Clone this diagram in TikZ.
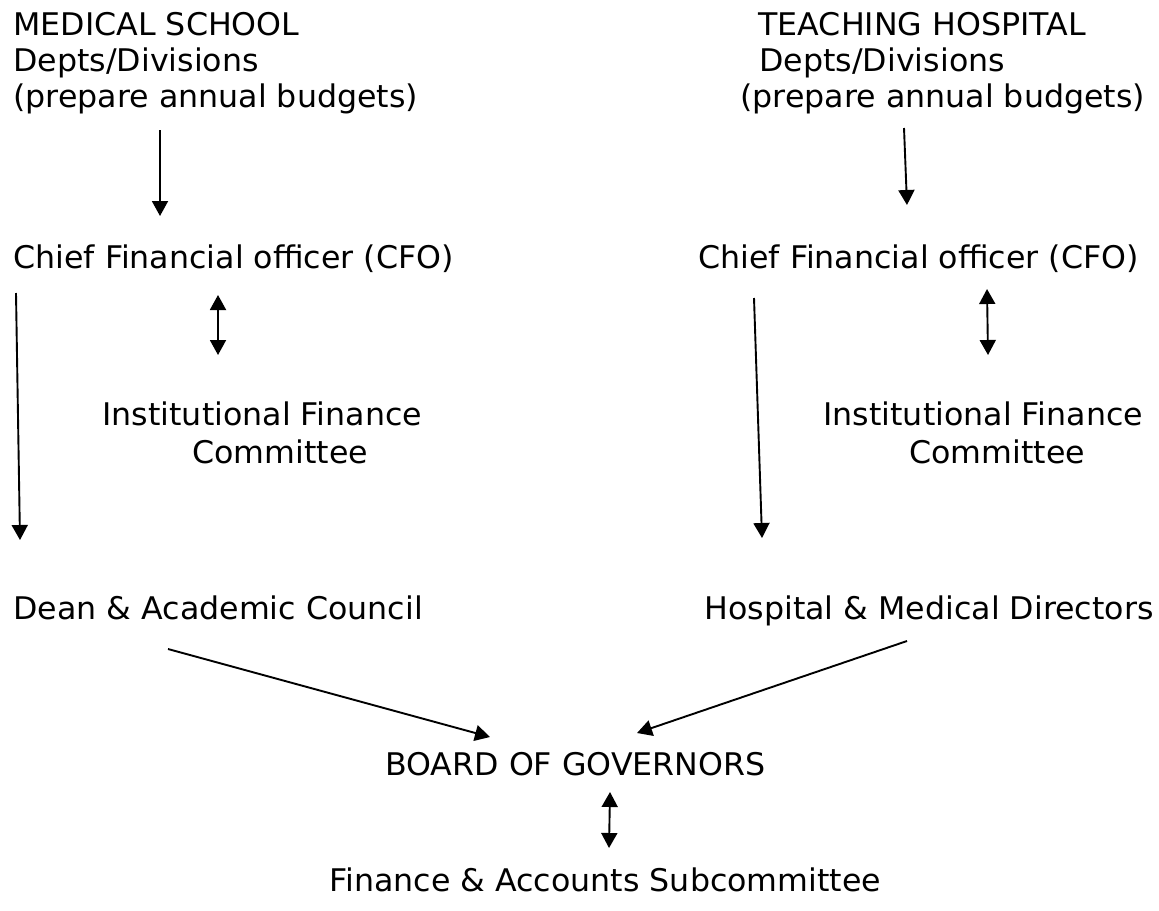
\documentclass[tikz,border=0pt]{standalone}
\usepackage{fontspec}
\setmainfont{DejaVu Sans}[FakeStretch=1.015]
\usetikzlibrary{arrows.meta}
\begin{document}
\begin{tikzpicture}[x=0.5pt,y=-0.5pt,
  lbl/.style={anchor=base west,inner sep=0pt,align=left,font=\fontsize{15.6}{18}\selectfont},
  arr/.style={line width=0.95pt,-{Triangle[length=7.5pt,width=8pt]}},
  dbl/.style={line width=0.95pt,{Triangle[length=7.5pt,width=8pt]}-{Triangle[length=7.5pt,width=8pt]}}]
\useasboundingbox[fill=white] (0,0) rectangle (1159,910);
% text nodes (base anchor = baseline of last line)
\node[lbl] (ms) at (13,107) {MEDICAL SCHOOL\\Depts/Divisions\\(prepare annual budgets)};
\node[lbl] (th) at (740,107) {\hspace*{9pt}TEACHING HOSPITAL\\\hspace*{9.5pt}Depts/Divisions\\(prepare annual budgets)};
\node[lbl] (cfoL) at (13,268) {Chief Financial officer (CFO)};
\node[lbl] (cfoR) at (698,268) {Chief Financial officer (CFO)};
\node[lbl] (ifcL) at (102,463) {Institutional Finance\\[1pt]\hspace*{45pt}Committee};
\node[lbl] (ifcR) at (823,463) {Institutional Finance\\[1pt]\hspace*{43pt}Committee};
\node[lbl] (dean) at (13,619) {Dean \& Academic Council};
\node[lbl] (hosp) at (704,619) {Hospital \& Medical Directors};
\node[lbl] (board) at (385,775) {BOARD OF GOVERNORS};
\node[lbl] (fas) at (329,891) {Finance \& Accounts Subcommittee};
% connector end points
\coordinate (msA) at (160,130);  \coordinate (cfoLA) at (160,216);
\coordinate (thA) at (904,128);  \coordinate (cfoRA) at (907,205);
\coordinate (cfoLB) at (16,293); \coordinate (deanA) at (20,540);
\coordinate (cfoLC) at (218,295); \coordinate (ifcLA) at (218,355);
\coordinate (cfoRB) at (754,298); \coordinate (hospA) at (762,538);
\coordinate (cfoRC) at (987,289); \coordinate (ifcRA) at (988,355);
\coordinate (deanB) at (168,649); \coordinate (boardA) at (490,737);
\coordinate (hospB) at (907,641); \coordinate (boardB) at (637,733);
\coordinate (boardC) at (610,792); \coordinate (fasA) at (609,848);
% connectors
\draw[arr] (msA) -- (cfoLA);
\draw[arr] (thA) -- (cfoRA);
\draw[arr] (cfoLB) -- (deanA);
\draw[dbl] (cfoLC) -- (ifcLA);
\draw[arr] (cfoRB) -- (hospA);
\draw[dbl] (cfoRC) -- (ifcRA);
\draw[arr] (deanB) -- (boardA);
\draw[arr] (hospB) -- (boardB);
\draw[dbl] (boardC) -- (fasA);
\end{tikzpicture}
\end{document}
